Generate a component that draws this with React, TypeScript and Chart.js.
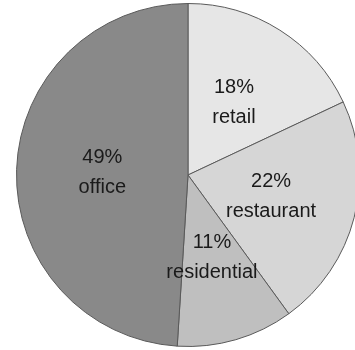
import React, { useEffect, useRef } from "react";
import { Chart, registerables } from "chart.js";

Chart.register(...registerables);

const categories = ["retail", "restaurant", "residential", "office"];
const shares = [18, 22, 11, 49];
const sliceColors = ["#e6e6e6", "#d6d6d6", "#bfbfbf", "#898989"];

const labelPlugin = {
  id: "sliceLabels",
  afterDatasetsDraw(chart: any) {
    const ctx = chart.ctx;
    const meta = chart.getDatasetMeta(0);
    ctx.save();
    ctx.font = "20px 'Liberation Sans', Arial, sans-serif";
    ctx.fillStyle = "#1a1a1a";
    ctx.textAlign = "center";
    ctx.textBaseline = "middle";
    meta.data.forEach((arc: any, i: number) => {
      const p = arc.tooltipPosition();
      ctx.fillText(`${shares[i]}%`, p.x, p.y - 15);
      ctx.fillText(categories[i], p.x, p.y + 15);
    });
    ctx.restore();
  },
};

export default function App() {
  const ref = useRef<HTMLCanvasElement | null>(null);
  useEffect(() => {
    if (!ref.current) return;
    const chart = new Chart(ref.current, {
      type: "pie",
      data: {
        labels: categories,
        datasets: [
          {
            data: shares,
            backgroundColor: sliceColors,
            borderColor: "#5a5a5a",
            borderWidth: 1,
          },
        ],
      },
      options: {
        animation: false,
        responsive: true,
        maintainAspectRatio: false,
        layout: { padding: 0 },
        plugins: {
          legend: { display: false },
          tooltip: { enabled: false },
        },
      },
      plugins: [labelPlugin],
    });
    return () => chart.destroy();
  }, []);
  return (
    <div
      style={{
        position: "fixed",
        left: 0,
        top: 0,
        width: 355,
        height: 350,
        overflow: "hidden",
        background: "#fff",
      }}
    >
      <div style={{ position: "absolute", left: 16, top: 3, width: 344, height: 344 }}>
        <canvas ref={ref} />
      </div>
    </div>
  );
}
